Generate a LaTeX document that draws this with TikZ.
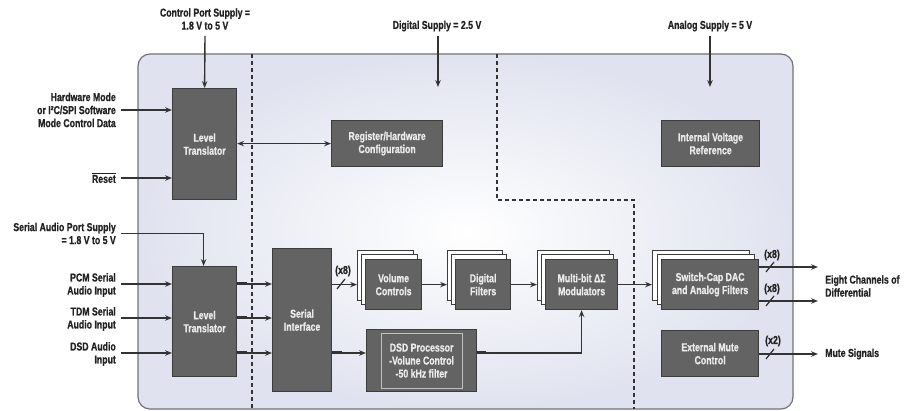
\documentclass[tikz,border=0pt]{standalone}
\usepackage{fontspec}
\setmainfont{Liberation Sans}[FakeStretch=0.76, BoldFeatures={FakeBold=0.8}]
\usetikzlibrary{arrows.meta,calc}
\definecolor{blkfill}{HTML}{636363}
\definecolor{blkline}{HTML}{3C3C3C}
\definecolor{wire}{HTML}{333333}
\definecolor{bgc}{HTML}{E0E3EF}
\definecolor{txt}{HTML}{222222}
\tikzset{
  lbl/.style={font=\bfseries\fontsize{11.5}{13}\selectfont, text=txt, inner sep=0pt},
  blk/.style={draw=blkline, fill=blkfill, line width=1.2pt, text=white!92!black, align=center,
     inner sep=0pt, anchor=north west, font=\bfseries\fontsize{11.5}{13}\selectfont},
  back/.style={draw=blkline, fill=white, line width=1pt, inner sep=0pt, anchor=north west},
  arr/.style={draw=wire, line width=1.4pt, -{Stealth[length=7pt,width=5.5pt,inset=2.5pt]}},
  arrb/.style={draw=wire, line width=1.4pt, {Stealth[length=7pt,width=5.5pt,inset=2.5pt]}-{Stealth[length=7pt,width=5.5pt,inset=2.5pt]}},
  dsh/.style={draw=wire, line width=1.3pt, dash pattern=on 4pt off 3pt},
  slash/.style={draw=wire, line width=1.2pt},
}
\begin{document}
\begin{tikzpicture}[x=1pt,y=-1pt]
\useasboundingbox (0,0) rectangle (910,411);
% outer body
\shade[rounded corners=12pt, inner color=white, outer color=bgc] (138,54) rectangle (793,409);
\draw[rounded corners=12pt, draw=black!55, line width=1.2pt] (138,54) rectangle (793,409);
% dashed domain borders
\draw[dsh] (252,54) -- (252,409);
\draw[dsh] (497,54) -- (497,200) -- (634,200) -- (634,409);

% blocks
\node[blk, minimum width=64pt, minimum height=111pt] (lt1) at (172,88) {Level\\Translator};
\node[blk, minimum width=111pt, minimum height=46pt] (reg) at (331,120) {Register/Hardware\\Configuration};
\node[blk, minimum width=98pt, minimum height=46pt] (ivr) at (661,120) {Internal Voltage\\Reference};
\node[blk, minimum width=64pt, minimum height=110pt] (lt2) at (172,266) {Level\\Translator};
\node[blk, minimum width=59pt, minimum height=143pt] (si) at (272,248) {Serial\\Interface};

\node[back, minimum width=56pt, minimum height=50pt] (volb) at (357,250) {};
\node[back, minimum width=56pt, minimum height=50pt] (volm) at (361,254.5) {};
\node[blk, minimum width=56pt, minimum height=50pt] (vol) at (365,259) {Volume\\Controls};

\node[back, minimum width=55pt, minimum height=50pt] (digb) at (447,250) {};
\node[back, minimum width=55pt, minimum height=50pt] (digm) at (451,254.5) {};
\node[blk, minimum width=55pt, minimum height=50pt] (dig) at (455,259) {Digital\\Filters};

\node[back, minimum width=72pt, minimum height=50pt] (modb) at (537,250) {};
\node[back, minimum width=72pt, minimum height=50pt] (modm) at (541,254.5) {};
\node[blk, minimum width=72pt, minimum height=50pt] (mod) at (545,259) {Multi-bit ΔΣ\\Modulators};

\node[back, minimum width=97pt, minimum height=50pt] (swb) at (652,250) {};
\node[back, minimum width=97pt, minimum height=50pt] (swm) at (656.5,254.5) {};
\node[blk, minimum width=97pt, minimum height=50pt] (sw) at (661,259) {Switch-Cap DAC\\and Analog Filters};

\node[blk, minimum width=110pt, minimum height=62pt] (dsd) at (366,329) {};
\node[draw=white!60!blkfill, line width=0.6pt, minimum width=81pt, minimum height=55pt, inner sep=0pt,
      align=center, text=white!92!black, font=\bfseries\fontsize{11.5}{13}\selectfont]
      (dsdin) at (dsd.center) {DSD Processor\\-Volune Control\\-50 kHz filter};

\node[blk, minimum width=97pt, minimum height=46pt] (emc) at (661,330) {External Mute\\Control};

% supply labels
\node[lbl, align=center] (cps) at (205,19) {Control Port Supply =\\1.8 V to 5 V};
\node[lbl] (dsup) at (437,26) {Digital Supply = 2.5 V};
\node[lbl] (asup) at (710,26) {Analog Supply = 5 V};
\coordinate (dsupend) at (438,87);
\coordinate (asupend) at (710,87);
\draw[arr] (205,36) -- (lt1.north);
\draw[arr] (438,36) -- (dsupend);
\draw[arr] (710,36) -- (asupend);

% left inputs
\node[lbl, align=right, anchor=east] (hw) at (116,110) {Hardware Mode\\or I²C/SPI Software\\Mode Control Data};
\node[lbl, anchor=east] (rst) at (116,178) {$\overline{\hbox{Reset}}$};
\draw[arr] ($(hw.east)+(5,0)$) -- (hw.east -| lt1.west);
\draw[arr] ($(rst.east)+(5,0)$) -- (rst.east -| lt1.west);
\draw[arrb] (lt1.east |- reg.west) -- (reg.west);

\node[lbl, align=right, anchor=east] (sap) at (116,233.5) {Serial Audio Port Supply\\= 1.8 V to 5 V};
\draw[arr] ($(sap.east)+(5,0)$) -| ([xshift=-1pt]lt2.north);

\node[lbl, align=right, anchor=east] (pcm) at (116,285) {PCM Serial\\Audio Input};
\node[lbl, align=right, anchor=east] (tdm) at (116,319) {TDM Serial\\Audio Input};
\node[lbl, align=right, anchor=east] (dsdi) at (116,354) {DSD Audio\\Input};
\coordinate (y1) at (0,284);
\coordinate (y2) at (0,318);
\coordinate (y3) at (0,353);
\draw[arr] ($(pcm.east |- y1)+(5,0)$) -- (lt2.west |- y1);
\draw[arr] ($(tdm.east |- y2)+(5,0)$) -- (lt2.west |- y2);
\draw[arr] ($(dsdi.east |- y3)+(5,0)$) -- (lt2.west |- y3);
\foreach \yy in {y1,y2,y3}{
  \draw[arr] (lt2.east |- \yy) -- (si.west |- \yy);
  \draw[draw=wire, line width=3pt] (lt2.east |- \yy) -- ++(10,0);
}

% signal chain
\draw[arr] (si.east |- vol.west) -- (volb.west |- vol.west);
\draw[slash] (337,289) -- (345,279);
\node[lbl] (x8a) at (343,271) {(x8)};
\draw[arr] (vol.east) -- (digb.west |- dig.west);
\draw[arr] (dig.east) -- (modb.west |- mod.west);
\draw[arr] (mod.east) -- (swb.west |- sw.west);
\draw[arr] (si.east |- y3) -- (dsd.west |- y3);
\draw[draw=wire, line width=3pt] (si.east |- y3) -- ++(10,0);
\draw[arr] (dsd.east |- y3) -| (mod.south);
\draw[draw=wire, line width=3pt] (dsd.east |- y3) -- ++(9,0);

% outputs
\coordinate (o1) at (818,267);
\coordinate (o2) at (818,301);
\coordinate (o3) at (818,354);
\draw[arr] (sw.east |- o1) -- (o1);
\draw[arr] (sw.east |- o2) -- (o2);
\draw[arr] (emc.east |- o3) -- (o3);
\draw[slash] (766,272) -- (774,262);
\draw[slash] (766,306) -- (774,296);
\draw[slash] (766,359) -- (774,349);
\node[lbl] (x8b) at (772,255) {(x8)};
\node[lbl] (x8c) at (772,289) {(x8)};
\node[lbl] (x2) at (773,341) {(x2)};
\node[lbl, align=left, anchor=west] (eight) at (825,286) {Eight Channels of\\Differential};
\node[lbl, anchor=west] (mute) at (825,354) {Mute Signals};
\end{tikzpicture}
\end{document}
